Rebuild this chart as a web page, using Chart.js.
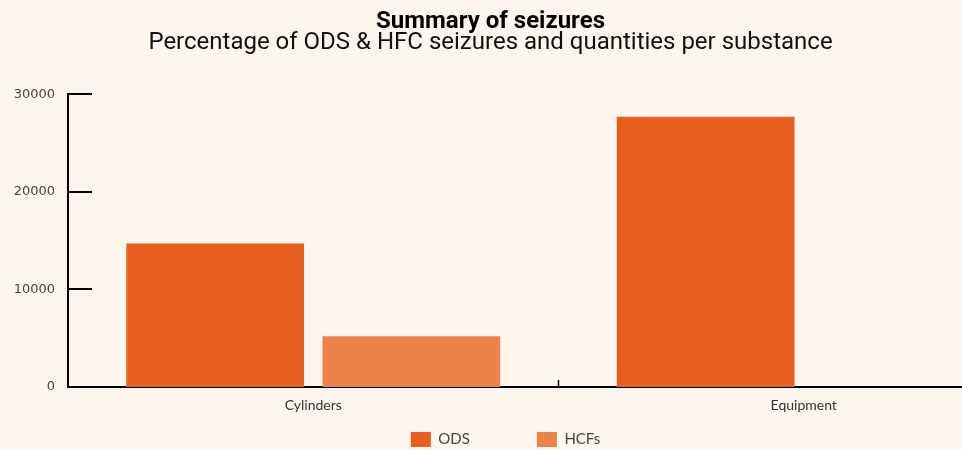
<!DOCTYPE html>
<html>
<head>
<meta charset="utf-8">
<script src="https://cdn.jsdelivr.net/npm/chart.js@4"></script>
<style>
  html, body { margin: 0; padding: 0; background: #fdf5ee; overflow: hidden; }
  /* the original is cropped on the right, so the canvas runs past the window */
  #wrap { position: relative; width: 1049px; height: 450px; }
</style>
</head>
<body>
<div id="wrap"><canvas id="chart"></canvas></div>
<script>
// data
const categories = ['Cylinders', 'Equipment'];
const odsValues = [14700, 27700];
const hcfValues = [5200, 0];
const yTicks = [0, 10000, 20000, 30000];

const ODS_COLOR = '#e86021';
const HCF_COLOR = '#ee834a';

// short tick marks drawn inside the plot, like the original
const inwardTicks = {
  id: 'inwardTicks',
  afterDraw(chart) {
    const { ctx, scales: { x, y } } = chart;
    ctx.save();
    ctx.strokeStyle = '#000';
    ctx.lineWidth = 2;
    ctx.beginPath();
    y.ticks.forEach(t => {
      const py = Math.round(y.getPixelForValue(t.value));
      ctx.moveTo(y.right - 1, py);
      ctx.lineTo(y.right + 24, py);
    });
    ctx.stroke();
    ctx.lineWidth = 1.5;
    ctx.beginPath();
    for (let i = 1; i < categories.length; i++) {
      const px = (x.getPixelForValue(i - 1) + x.getPixelForValue(i)) / 2;
      ctx.moveTo(px, x.top);
      ctx.lineTo(px, x.top - 7);
    }
    ctx.stroke();
    ctx.restore();
  }
};

// legend sits low and a bit right of centre, with wide gaps between items
const legendPlacement = {
  id: 'legendPlacement',
  afterLayout(chart) {
    const lg = chart.legend;
    lg.top = 432 - lg.options.labels.padding;
    lg.bottom = chart.height;
    lg.height = lg.bottom - lg.top;
    lg.left += 15;
    lg.right += 15;
  }
};

new Chart(document.getElementById('chart'), {
  type: 'bar',
  data: {
    labels: categories,
    datasets: [
      { label: 'ODS', data: odsValues, backgroundColor: ODS_COLOR },
      { label: 'HCFs', data: hcfValues, backgroundColor: HCF_COLOR }
    ]
  },
  options: {
    responsive: true,
    maintainAspectRatio: false,
    animation: false,
    layout: { padding: { left: -68, right: 0, top: 0, bottom: 0 } },
    datasets: { bar: { barPercentage: 0.906, categoryPercentage: 0.8 } },
    plugins: {
      title: {
        display: true,
        text: 'Summary of seizures',
        color: '#000',
        font: { family: 'Roboto', size: 24, weight: 'bold', lineHeight: 0.9 },
        padding: { top: 11, bottom: 0 }
      },
      subtitle: {
        display: true,
        text: 'Percentage of ODS & HFC seizures and quantities per substance',
        color: '#111',
        font: { family: 'Roboto', size: 24, weight: 'normal', lineHeight: 0.9 },
        padding: { top: 0, bottom: 40 }
      },
      legend: {
        position: 'bottom',
        maxHeight: 33,
        labels: {
          boxWidth: 20,
          boxHeight: 15,
          padding: 67,
          color: '#444',
          font: { family: 'Lato', size: 15 }
        }
      },
      tooltip: { enabled: false }
    },
    scales: {
      x: {
        afterFit: scale => { scale.height = 30; },
        grid: { display: false, drawTicks: false },
        border: { display: true, color: '#000', width: 2 },
        ticks: { color: '#333', padding: 10, font: { family: 'Lato', size: 14 } }
      },
      y: {
        min: 0,
        max: 30000,
        afterBuildTicks: scale => { scale.ticks = yTicks.map(v => ({ value: v })); },
        afterFit: scale => { scale.width = 136; },
        grid: { display: false, drawTicks: false },
        border: { display: true, color: '#000', width: 2 },
        ticks: {
          color: '#444',
          padding: 13,
          font: { family: 'DejaVu Sans', size: 13 },
          callback: v => String(v)
        }
      }
    }
  },
  plugins: [inwardTicks, legendPlacement]
});
</script>
</body>
</html>
